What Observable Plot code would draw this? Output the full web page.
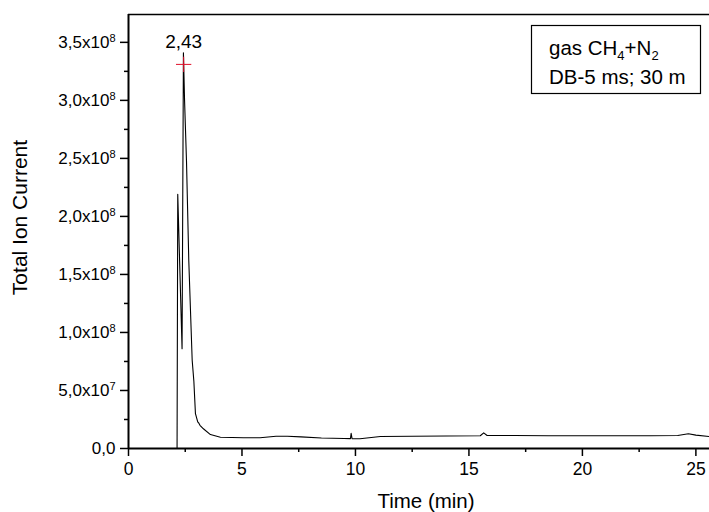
<!DOCTYPE html>
<html>
<head>
<meta charset="utf-8">
<script src="https://cdn.jsdelivr.net/npm/d3@7"></script>
<script src="https://cdn.jsdelivr.net/npm/@observablehq/plot@0.6"></script>
<style>
  html, body { margin: 0; padding: 0; background: white; }
  #chart { width: 709px; height: 512px; }
</style>
</head>
<body>
<div id="chart"></div>
<script>
// Chromatogram trace (time in min, total ion current)
const time = [2.14, 2.17, 2.36, 2.42, 2.47, 2.555, 2.656, 2.806, 2.88, 2.95, 3.05, 3.10, 3.15, 3.30, 3.61, 4.05, 5.07, 5.8, 6.5, 7.0, 7.6, 8.5, 9.5, 9.78, 9.81, 9.85, 10.2, 11.1, 12.5, 14.0, 15.5, 15.65, 15.8, 17.0, 18.5, 20.0, 21.5, 23.0, 24.2, 24.67, 25.0, 25.6];
const tic = [0, 219e6, 86e6, 341e6, 300e6, 248e6, 162e6, 76e6, 58e6, 30e6, 23e6, 21.8e6, 20e6, 17e6, 12e6, 9.7e6, 9.2e6, 9.2e6, 10.5e6, 10.6e6, 10e6, 9e6, 8.6e6, 8.5e6, 13e6, 8.5e6, 8.4e6, 10.3e6, 10.5e6, 10.8e6, 11e6, 13.5e6, 11.2e6, 11.2e6, 11e6, 11e6, 11e6, 11e6, 11.2e6, 12.7e6, 11.5e6, 10.3e6];

// Peak annotation
const peakTime = [2.43];
const peakValue = [331e6];
const peakLabel = ["2,43"];

// Axes
const xTicks = [0, 5, 10, 15, 20, 25];
const xMinor = [2.5, 7.5, 12.5, 17.5, 22.5];
const yTicks = [0, 5e7, 1e8, 1.5e8, 2e8, 2.5e8, 3e8, 3.5e8];
const yMinor = [2.5e7, 7.5e7, 1.25e8, 1.75e8, 2.25e8, 2.75e8, 3.25e8];
const yTickLabels = ["0,0", "5,0x10^7", "1,0x10^8", "1,5x10^8", "2,0x10^8", "2,5x10^8", "3,0x10^8", "3,5x10^8"];
const xDomain = [0, 25.6];
const yDomain = [0, 3.74e8];

const xLabel = "Time (min)";
const yLabel = "Total Ion Current";
const legendLines = [["gas CH", "4", "+N", "2"], ["DB-5 ms; 30 m"]];

const data = time.map((t, i) => ({t, v: tic[i]}));
const peaks = peakTime.map((t, i) => ({t, v: peakValue[i], label: peakLabel[i]}));

const plot = Plot.plot({
  width: 709,
  height: 512,
  marginLeft: 128,
  marginRight: 0,
  marginTop: 14,
  marginBottom: 64,
  style: {fontFamily: "'Liberation Sans', Arial, sans-serif", fontSize: "17px", background: "white", color: "black"},
  x: {domain: xDomain},
  y: {domain: yDomain},
  marks: [
    Plot.line(data, {x: "t", y: "v", stroke: "black", strokeWidth: 1.1}),
    Plot.ruleY([yDomain[1]], {stroke: "black", strokeWidth: 1.5}),
    Plot.ruleX([0], {stroke: "black", strokeWidth: 2}),
    Plot.ruleY([0], {stroke: "black", strokeWidth: 2}),
    Plot.axisX({ticks: xTicks, tickSize: 8, tickPadding: 6, tickFormat: d => String(d), label: null, fontSize: 17.5, strokeWidth: 1.5}),
    Plot.axisX({ticks: xMinor, tickSize: 4, tickFormat: () => "", label: null, strokeWidth: 1.5}),
    Plot.axisY({ticks: yTicks, tickSize: 8, tickPadding: 5, tickFormat: d => yTickLabels[yTicks.indexOf(d)], label: null, fontSize: 17, strokeWidth: 1.5}),
    Plot.axisY({ticks: yMinor, tickSize: 4, tickFormat: () => "", label: null, strokeWidth: 1.5}),
    Plot.dot(peaks, {x: "t", y: "v", symbol: "plus", stroke: "#e0102a", r: 5, strokeWidth: 1}),
    Plot.text(peaks, {x: "t", y: "v", text: "label", dy: -22, fontSize: 19, fill: "black"}),
    Plot.text([yLabel], {text: d => d, frameAnchor: "left", textAnchor: "middle", dx: -108, dy: -14, rotate: -90, fontSize: 21, fill: "black"}),
    Plot.text([xLabel], {text: d => d, frameAnchor: "bottom", dx: 7, dy: 59, fontSize: 20.5, fill: "black"})
  ]
});

// Superscript exponents on y tick labels
d3.select(plot).selectAll('g[aria-label="y-axis tick label"] text').each(function() {
  const s = this.textContent;
  if (s.includes("^")) {
    const [base, exp] = s.split("^");
    const t = d3.select(this);
    t.text(base);
    t.append("tspan").attr("dy", "-0.55em").attr("font-size", "11px").text(exp);
  }
});

// Legend box
const svg = d3.select(plot);
const g = svg.append("g").attr("font-family", "'Liberation Sans', Arial, sans-serif").attr("font-size", 20.5).attr("fill", "black").attr("text-anchor", "start");
g.append("rect").attr("x", 531.5).attr("y", 25.5).attr("width", 169).attr("height", 68).attr("fill", "white").attr("stroke", "black").attr("stroke-width", 1.2);
const t1 = g.append("text").attr("x", 549).attr("y", 55);
t1.append("tspan").text(legendLines[0][0]);
t1.append("tspan").attr("font-size", 13).attr("dy", 5).text(legendLines[0][1]);
t1.append("tspan").attr("dy", -5).text(legendLines[0][2]);
t1.append("tspan").attr("font-size", 13).attr("dy", 5).text(legendLines[0][3]);
g.append("text").attr("x", 549).attr("y", 84).text(legendLines[1][0]);

document.getElementById("chart").appendChild(plot);
</script>
</body>
</html>
